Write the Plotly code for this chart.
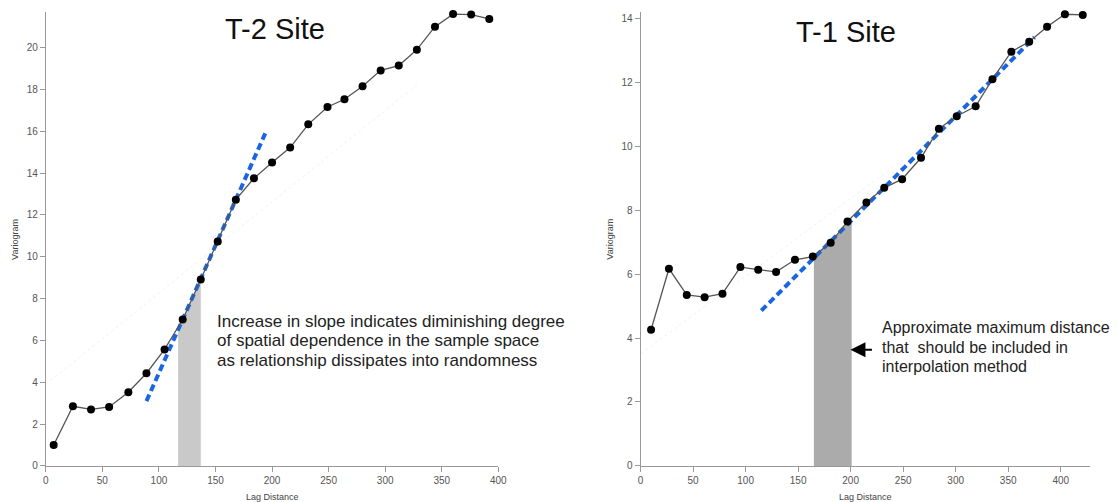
import numpy as np
import plotly.graph_objects as go

# ---------------- data ----------------
t2_lag = [7, 24, 40, 56, 73, 89, 105, 121, 137, 152, 168, 184, 200, 216, 232, 249,
          264, 280, 296, 312, 328, 344, 360, 376, 392]
t2_vario = [1.0, 2.85, 2.7, 2.82, 3.52, 4.43, 5.57, 7.0, 8.91, 10.73, 12.73, 13.75,
            14.51, 15.22, 16.33, 17.16, 17.53, 18.15, 18.91, 19.14, 19.9, 21.0, 21.6,
            21.58, 21.37]
t1_lag = [10, 27, 44, 61, 78, 95, 112, 129, 147, 164, 181, 197, 215, 232, 249, 267,
          284, 301, 319, 335, 353, 370, 387, 404, 421]
t1_vario = [4.26, 6.17, 5.35, 5.28, 5.39, 6.22, 6.14, 6.07, 6.45, 6.55, 6.98, 7.65,
            8.24, 8.70, 8.97, 9.64, 10.55, 10.94, 11.25, 12.10, 12.96, 13.27, 13.74,
            14.13, 14.11]

t2_slope_x = [89, 194]
t2_slope_y = [3.1, 15.9]
t1_slope_x = [115, 375]
t1_slope_y = [4.86, 13.41]

t2_faint_x = [0, 330]
t2_faint_y = [3.9, 18.3]
t1_faint_x = [0, 300]
t1_faint_y = [3.5, 10.8]

t2_shade = [117, 137]
t1_shade = [165, 201]

x_ticks = [0, 50, 100, 150, 200, 250, 300, 350, 400]
t2_y_ticks = [0, 2, 4, 6, 8, 10, 12, 14, 16, 18, 20]
t1_y_ticks = [0, 2, 4, 6, 8, 10, 12, 14]

t2_title = "T-2 Site"
t1_title = "T-1 Site"
t2_note = ["Increase in slope indicates diminishing degree",
           "of spatial dependence in the sample space",
           "as relationship dissipates into randomness"]
t1_note = ["Approximate maximum distance",
           "that  should be included in",
           "interpolation method"]

# layout reference frame (positions are fractions of this)
W, H = 1118, 502
# actual figure size (the captured area is slightly larger than the window)
FIG_W, FIG_H = 1124, 508
FONT = "Liberation Sans, Arial, sans-serif"


def shade_xy(lag, vals, bounds):
    xs = [bounds[0]] + [v for v in lag if bounds[0] < v < bounds[1]] + [bounds[1]]
    ys = list(np.interp(xs, lag, vals))
    return xs, ys


fig = go.Figure()

for (lag, vals, shade, shade_col, sx, sy, fx, fy, xa, ya) in [
    (t2_lag, t2_vario, t2_shade, "#c9c9c9", t2_slope_x, t2_slope_y, t2_faint_x, t2_faint_y, "x", "y"),
    (t1_lag, t1_vario, t1_shade, "#ababab", t1_slope_x, t1_slope_y, t1_faint_x, t1_faint_y, "x2", "y2"),
]:
    shx, shy = shade_xy(lag, vals, shade)
    fig.add_trace(go.Scatter(x=shx, y=shy, mode="lines", fill="tozeroy",
                             fillcolor=shade_col, line=dict(width=0, color=shade_col),
                             xaxis=xa, yaxis=ya, showlegend=False, hoverinfo="skip"))
    fig.add_trace(go.Scatter(x=fx, y=fy, mode="lines",
                             line=dict(color="#f0f0f0", width=1, dash="dot"),
                             xaxis=xa, yaxis=ya, showlegend=False, hoverinfo="skip"))
    fig.add_trace(go.Scatter(x=sx, y=sy, mode="lines",
                             line=dict(color="#1a66e0", width=4, dash="7px,4px"),
                             xaxis=xa, yaxis=ya, showlegend=False, cliponaxis=False))
    fig.add_trace(go.Scatter(x=lag, y=vals, mode="lines+markers",
                             line=dict(color="#555555", width=1.3),
                             marker=dict(color="black", size=8),
                             xaxis=xa, yaxis=ya, showlegend=False, cliponaxis=False))

axis_common = dict(showline=True, linecolor="#999999", linewidth=1, ticks="outside",
                   ticklen=5, tickcolor="#999999", showgrid=False, zeroline=False,
                   tickfont=dict(size=10, color="#555555", family=FONT), fixedrange=True)

y_dom = [37 / H, 1 - 12 / H]
fig.update_layout(
    width=FIG_W, height=FIG_H, autosize=False,
    margin=dict(l=0, r=0, t=0, b=0),
    paper_bgcolor="white", plot_bgcolor="white",
    xaxis=dict(domain=[43 / W, 498 / W], range=[0, 400], tickvals=x_ticks, anchor="y", **axis_common),
    yaxis=dict(domain=y_dom, range=[0, 21.7], tickvals=t2_y_ticks, anchor="x", **axis_common),
    xaxis2=dict(domain=[641 / W, 1093 / W], range=[0, 428], tickvals=x_ticks, anchor="y2", **axis_common),
    yaxis2=dict(domain=y_dom, range=[0, 14.2], tickvals=t1_y_ticks, anchor="x2", **axis_common),
)

ann = []
ann.append(dict(text=t2_title, x=273.5 / W, y=1 - 29 / H, xref="paper", yref="paper",
                xanchor="center", yanchor="middle",
                showarrow=False, font=dict(size=29, color="#111111", family=FONT)))
ann.append(dict(text=t1_title, x=847.3 / W, y=1 - 32 / H, xref="paper", yref="paper",
                xanchor="center", yanchor="middle",
                showarrow=False, font=dict(size=29, color="#111111", family=FONT)))
for i, line in enumerate(t2_note):
    ann.append(dict(text=line, x=213 / W, y=1 - (321 + i * 19.3) / H, xref="paper", yref="paper",
                    xanchor="left", yanchor="middle", showarrow=False,
                    font=dict(size=17, color="#222222", family=FONT)))
for i, line in enumerate(t1_note):
    ann.append(dict(text=line, x=881.7 / W, y=1 - (327.3 + i * 19.3) / H, xref="paper", yref="paper",
                    xanchor="left", yanchor="middle", showarrow=False,
                    font=dict(size=16, color="#222222", family=FONT)))
ann.append(dict(text="", x=852 / W, y=1 - 349 / H, xref="paper", yref="paper",
                showarrow=True, ax=23, ay=0, arrowhead=2, arrowsize=1.5, arrowwidth=2,
                arrowcolor="black"))
for xc in [12, 610]:
    ann.append(dict(text="Variogram", x=xc / W, y=1 - 238.5 / H, xref="paper", yref="paper",
                    xanchor="center", yanchor="middle",
                    textangle=-90, showarrow=False, font=dict(size=9, color="#444444", family=FONT)))
for xc in [270.5, 867]:
    ann.append(dict(text="Lag Distance", x=xc / W, y=1 - 496 / H, xref="paper", yref="paper",
                    xanchor="center", yanchor="middle",
                    showarrow=False, font=dict(size=9, color="#444444", family=FONT)))
fig.update_layout(annotations=ann)

fig.write_html("out.html", config={"displayModeBar": False, "responsive": False},
               post_script="document.body.style.margin='0';document.body.style.overflow='hidden';")
